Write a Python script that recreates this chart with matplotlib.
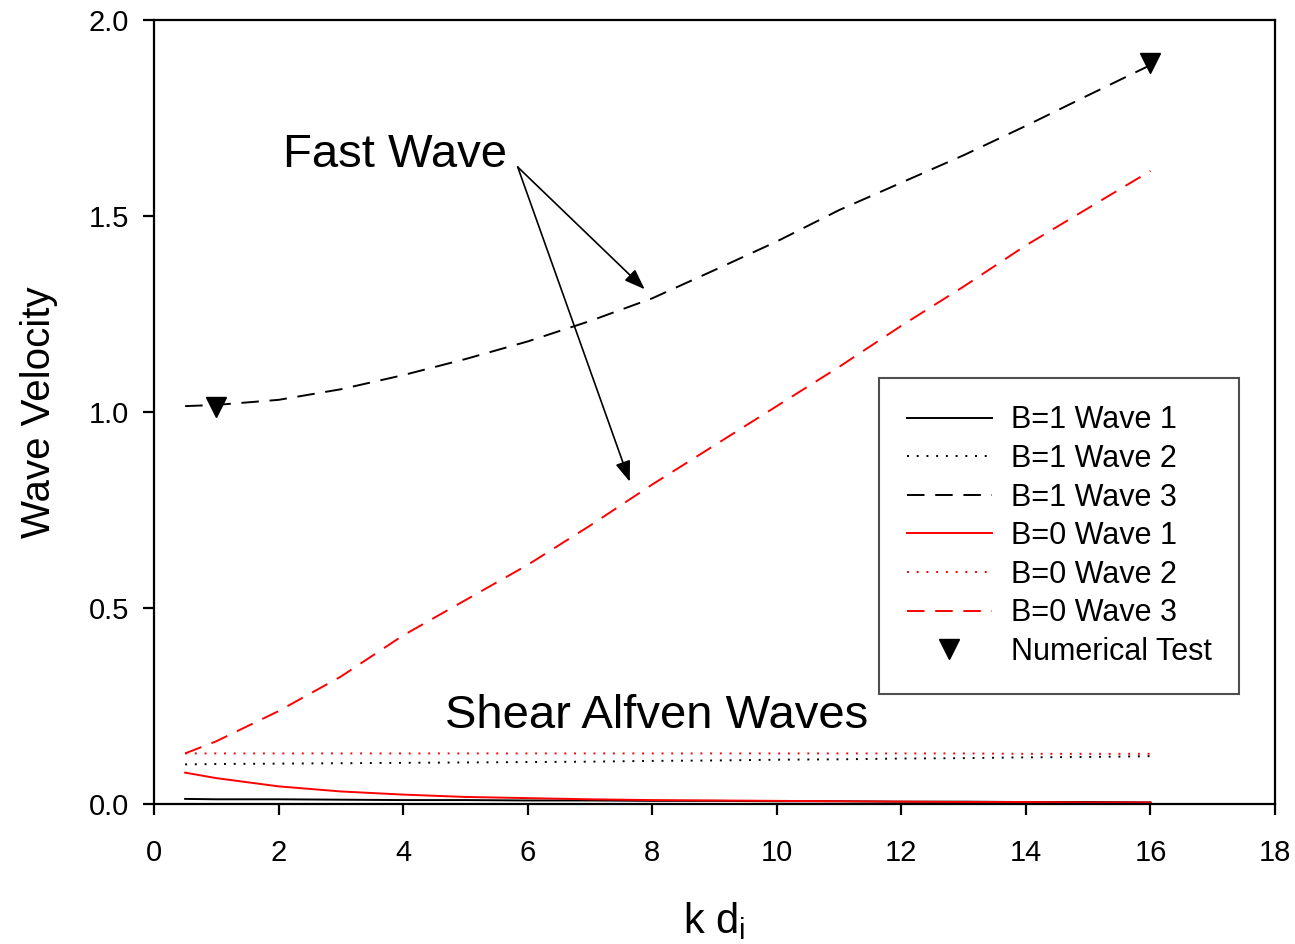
import matplotlib
matplotlib.use("Agg")
import matplotlib.pyplot as plt

plt.rcParams['font.family'] = ['Liberation Sans', 'DejaVu Sans']
plt.rcParams['mathtext.fontset'] = 'custom'
plt.rcParams['mathtext.rm'] = 'Liberation Sans'
plt.rcParams['mathtext.it'] = 'Liberation Sans'

# ---- data ----
kd = [0.5, 1, 2, 3, 4, 5, 6, 7, 8, 9, 10, 11, 12, 13, 14, 15, 16]
b1_wave1 = [0.013, 0.012, 0.012, 0.011, 0.010, 0.010, 0.009, 0.009, 0.008,
            0.008, 0.007, 0.007, 0.006, 0.006, 0.005, 0.005, 0.004]
b1_wave2 = [0.101, 0.102, 0.103, 0.104, 0.105, 0.106, 0.107, 0.108, 0.110,
            0.111, 0.113, 0.114, 0.116, 0.117, 0.119, 0.120, 0.122]
b1_wave3 = [1.015, 1.018, 1.031, 1.058, 1.094, 1.135, 1.180, 1.232, 1.290,
            1.362, 1.435, 1.515, 1.585, 1.655, 1.730, 1.808, 1.885]
b0_wave1 = [0.080, 0.066, 0.045, 0.032, 0.024, 0.018, 0.015, 0.012, 0.010,
            0.009, 0.008, 0.007, 0.006, 0.005, 0.005, 0.004, 0.004]
b0_wave2 = [0.129, 0.129, 0.129, 0.129, 0.129, 0.129, 0.129, 0.129, 0.129,
            0.129, 0.129, 0.129, 0.129, 0.129, 0.128, 0.128, 0.128]
b0_wave3 = [0.129, 0.160, 0.237, 0.325, 0.430, 0.520, 0.610, 0.710, 0.815,
            0.915, 1.015, 1.115, 1.220, 1.320, 1.425, 1.520, 1.615]
num_x = [1, 16]
num_y = [1.013, 1.89]

labels = ["B=1 Wave 1", "B=1 Wave 2", "B=1 Wave 3",
          "B=0 Wave 1", "B=0 Wave 2", "B=0 Wave 3", "Numerical Test"]

fig = plt.figure(figsize=(12.95, 9.44), dpi=100)
ax = fig.add_axes([154/1295, 1 - 804/944, (1275-154)/1295, (804-20)/944])

lw = 1.4
dash = (0, (9, 5.5))
dot = (0, (1, 4.0))
ax.plot(kd, b1_wave1, color='black', lw=lw, ls='-', label=labels[0])
ax.plot(kd, b1_wave2, color='black', lw=lw, ls=dot, label=labels[1])
ax.plot(kd, b1_wave3, color='black', lw=lw, ls=dash, label=labels[2])
ax.plot(kd, b0_wave1, color='red', lw=lw, ls='-', label=labels[3])
ax.plot(kd, b0_wave2, color='red', lw=lw, ls=dot, label=labels[4])
ax.plot(kd, b0_wave3, color='red', lw=lw, ls=dash, label=labels[5])
ax.plot(num_x, num_y, ls='none', marker='v', color='black', markersize=14,
        label=labels[6])

ax.set_xlim(0, 18)
ax.set_ylim(0, 2.0)
ax.set_xticks(range(0, 19, 2))
ax.set_yticks([0.0, 0.5, 1.0, 1.5, 2.0])
ax.set_yticklabels(['0.0', '0.5', '1.0', '1.5', '2.0'])

for s in ax.spines.values():
    s.set_linewidth(1.6)
ax.tick_params(direction='out', length=8, width=1.6, labelsize=21)
ax.tick_params(axis='x', pad=17)
ax.tick_params(axis='y', pad=10)

ax.set_xlabel(r'k d$_\mathregular{i}$', fontsize=30, labelpad=24)
ax.set_ylabel('Wave Velocity', fontsize=29, labelpad=22)

ax.text(3.87, 1.656, 'Fast Wave', fontsize=34, ha='center', va='center')
ax.text(8.07, 0.224, 'Shear Alfven Waves', fontsize=34, ha='center', va='center')

arrow_start = (5.84, 1.625)
arrow_tips = [(7.88, 1.313), (7.64, 0.822)]
for tip in arrow_tips:
    ax.annotate('', xy=tip, xytext=arrow_start,
                arrowprops=dict(arrowstyle='-|>,head_length=0.9,head_width=0.33',
                                color='black', lw=1.2, shrinkA=0, shrinkB=0,
                                mutation_scale=14))

leg = ax.legend(loc='upper left', bbox_to_anchor=((879-154)/1121, (804-378)/784),
                fontsize=22, frameon=True, fancybox=False, edgecolor='#222222',
                handlelength=2.8, handletextpad=0.62, labelspacing=0.28,
                borderpad=0.9, borderaxespad=0, markerscale=1.0)
leg.get_frame().set_linewidth(1.5)

fig.savefig('out.png', dpi=100)
